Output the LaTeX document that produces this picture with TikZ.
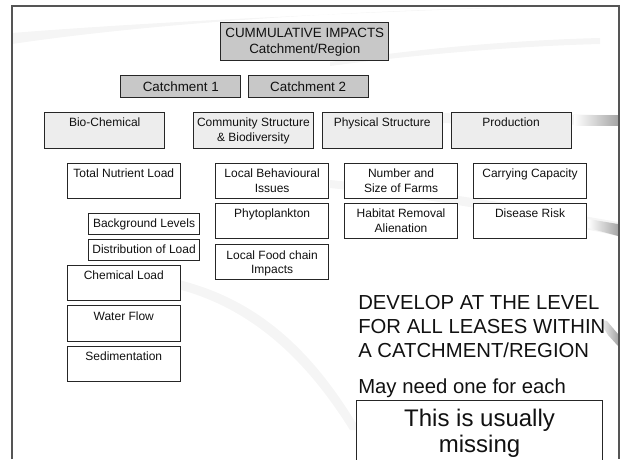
\documentclass[tikz,border=0pt]{standalone}
\usepackage{fontspec}
\setmainfont{Liberation Sans}
\definecolor{framec}{HTML}{555555}
\definecolor{boxborder}{HTML}{262626}
\definecolor{headfill}{HTML}{C8C8C8}
\definecolor{groupfill}{HTML}{EDEDED}
\definecolor{textc}{HTML}{111111}
\definecolor{swoosh}{HTML}{F5F5F5}
\definecolor{stubc}{HTML}{A6A6A6}

% #1 box style, #2 name, #3 x, #4 y, #5 width, #6 height,
% #7 text style, #8 gap from top edge to text, #9 text
\newcommand\panel[9]{%
  \node[#1, anchor=north west, minimum width=#5pt, minimum height=#6pt] (#2) at (#3,#4) {};%
  \node[#7, anchor=north] (#2-t) at ([yshift=-#8pt]#2.north) {#9};}

\begin{document}
\begin{tikzpicture}[x=1pt, y=-1pt,
  every node/.style={inner sep=0pt, outer sep=0pt},
  boxline/.style={draw=boxborder, line width=1pt},
  headbox/.style={boxline, fill=headfill},
  groupbox/.style={boxline, fill=groupfill},
  itembox/.style={boxline, fill=white},
  headtext/.style={font=\fontsize{13.4}{16}\selectfont, align=center, text=textc},
  itemtext/.style={font=\fontsize{12}{14.5}\selectfont, align=center, text=textc},
  bigtext/.style={font=\fontsize{20.3}{24}\selectfont, align=left, text=textc},
]
\useasboundingbox (0,0) rectangle (622,459);

% faint background swooshes
\fill[swoosh] (12,44) .. controls (160,22) and (380,8) .. (590,6)
  -- (555,6) .. controls (360,12) and (150,22) .. (12,33) -- cycle;
\fill[swoosh] (330,62) .. controls (420,48) and (520,40) .. (600,38)
  -- (600,44) .. controls (520,46) and (420,54) .. (330,66) -- cycle;
\fill[swoosh] (160,285) .. controls (240,300) and (300,350) .. (350,430)
  -- (360,430) .. controls (310,345) and (250,292) .. (160,276) -- cycle;
\fill[swoosh] (330,180) .. controls (430,190) and (520,205) .. (618,222)
  -- (618,236) .. controls (520,215) and (430,198) .. (330,188) -- cycle;
\fill[swoosh] (330,112) -- (618,115) -- (618,125) -- (330,122) -- cycle;

% grey ends of the swooshes at the right edge
\shade[left color=white, right color=stubc] (574,115) rectangle (618,125);
\shade[left color=white, right color=stubc] (588,219) -- (618,224) -- (618,236) -- (588,228) -- cycle;
\shade[left color=white, right color=stubc] (598,319) -- (607,321) -- (618,334) -- (618,346) -- (608,335) -- cycle;

% slide frame
\draw[framec, line width=2pt] (12,459) -- (12,6) -- (619,6) -- (619,459);

% top of the hierarchy
\panel{headbox}{cum}{220.6}{22.7}{168.3}{38}{headtext}{5.6}{CUMMULATIVE IMPACTS\\Catchment/Region}
\panel{headbox}{c1}{120.6}{75.3}{120.3}{22.4}{headtext}{6.4}{Catchment 1}
\panel{headbox}{c2}{248}{75.3}{120.3}{22.4}{headtext}{6.4}{Catchment 2}

% impact groups
\panel{groupbox}{bio}{44.8}{112.7}{119.9}{35.6}{itemtext}{5.5}{Bio-Chemical}
\panel{groupbox}{comm}{193.3}{112.7}{120.2}{35.6}{itemtext}{5.5}{Community Structure\\[0.5pt]\& Biodiversity}
\panel{groupbox}{phys}{322.2}{112.7}{119.8}{35.6}{itemtext}{5.5}{Physical Structure}
\panel{groupbox}{prod}{451.2}{112.7}{119.8}{35.6}{itemtext}{5.5}{Production}

% bio-chemical items
\panel{itembox}{tnl}{67}{163.3}{113.6}{35.4}{itemtext}{5.9}{Total Nutrient Load}
\panel{itembox}{bgl}{88.5}{213.3}{111.1}{21}{itemtext}{5.9}{Background Levels}
\panel{itembox}{dol}{88.5}{239.3}{111.1}{21}{itemtext}{5.9}{Distribution of Load}
\panel{itembox}{chem}{67}{265.3}{113.6}{35.4}{itemtext}{5.9}{Chemical Load}
\panel{itembox}{wf}{67}{305.7}{113.6}{35.4}{itemtext}{5.9}{Water Flow}
\panel{itembox}{sed}{67}{346}{113.6}{35.4}{itemtext}{5.9}{Sedimentation}

% community items
\panel{itembox}{lbi}{215.5}{163.3}{113.3}{35.4}{itemtext}{5.9}{Local Behavioural\\Issues}
\panel{itembox}{phy}{215.5}{203.3}{113.3}{35.4}{itemtext}{5.9}{Phytoplankton}
\panel{itembox}{lfc}{215.5}{244}{113.3}{35.3}{itemtext}{6.3}{Local Food chain\\Impacts}

% physical items
\panel{itembox}{nsf}{344.4}{163.3}{113.3}{35.4}{itemtext}{5.9}{Number and\\Size of Farms}
\panel{itembox}{hra}{344.4}{203.3}{113.3}{35.4}{itemtext}{5.9}{Habitat Removal\\Alienation}

% production items
\panel{itembox}{cc}{473.4}{163.3}{113.3}{35.4}{itemtext}{5.9}{Carrying Capacity}
\panel{itembox}{dr}{473.4}{203.3}{113.3}{35.4}{itemtext}{5.9}{Disease Risk}

% notes
\node[bigtext, anchor=north west] (develop) at (358.3,295)
  {DEVELOP AT THE LEVEL\\FOR ALL LEASES WITHIN\\A CATCHMENT/REGION};
\node[bigtext, anchor=base west] (mayneed) at (358.3,393) {May need one for each};
\node[itembox, line width=0.9pt, anchor=north west, minimum width=245.7pt, minimum height=80pt] (miss) at (356.7,400) {};
\node[font=\fontsize{24}{26}\selectfont, align=center, text=textc, anchor=north] (miss-t)
  at ([yshift=-8.8pt]miss.north) {This is usually\\missing};
\end{tikzpicture}
\end{document}
